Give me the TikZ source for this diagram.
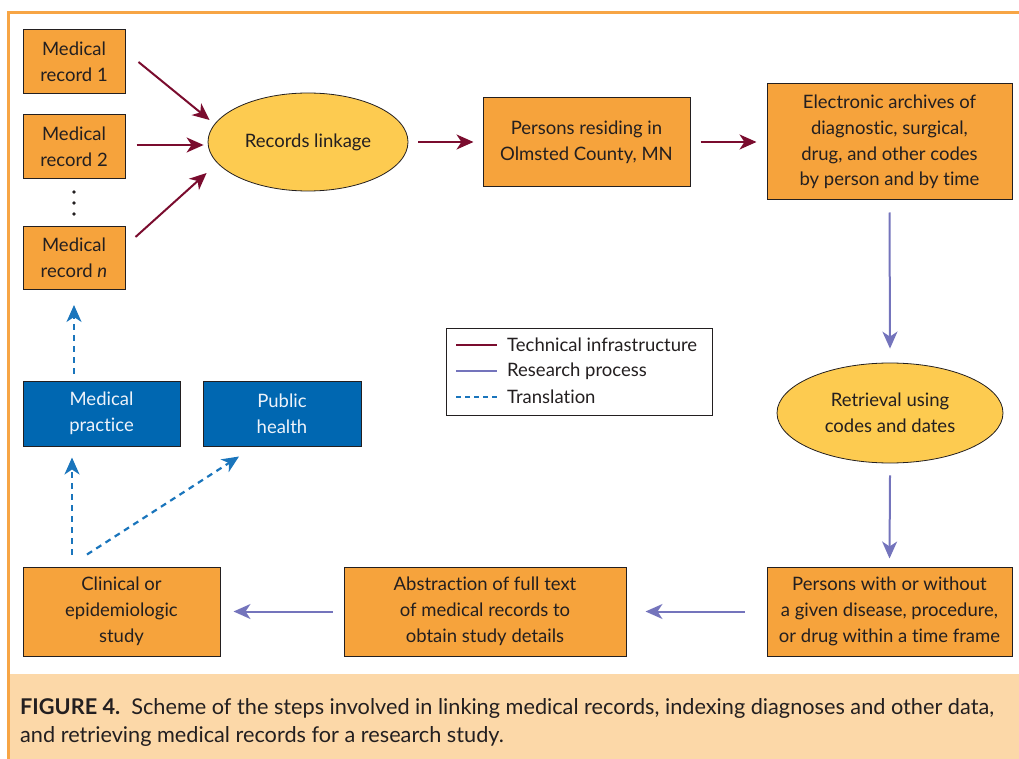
\documentclass[tikz,border=0pt]{standalone}
\usepackage{fontspec}
\setmainfont{Lato}[Ligatures=NoCommon]
\usetikzlibrary{arrows.meta,shapes.geometric}
\definecolor{boxorange}{HTML}{F6A33C}
\definecolor{ellyellow}{HTML}{FDCB50}
\definecolor{techred}{HTML}{7A0C2E}
\definecolor{resblue}{HTML}{7474BC}
\definecolor{bluebox}{HTML}{0067B1}
\definecolor{dashblue}{HTML}{1A75BC}
\definecolor{frameorange}{HTML}{F7A545}
\definecolor{capband}{HTML}{FCD8A8}
\definecolor{textgray}{HTML}{231F20}
\definecolor{boxtextwhite}{HTML}{EEF3FA}
\newcommand{\nodefont}{\fontsize{18.5}{25.8}\selectfont}
\tikzset{
  obox/.style={draw=textgray, line width=1pt, fill=boxorange, inner sep=0pt, align=center, text=textgray, font=\nodefont},
  bbox/.style={draw=textgray, line width=1pt, fill=bluebox, inner sep=0pt, align=center, text=boxtextwhite, font=\nodefont},
  yell/.style={draw=textgray, line width=0.8pt, fill=ellyellow, ellipse, inner sep=0pt, align=center, text=textgray, font=\nodefont},
  tech/.style={draw=techred, line width=2pt, -{Stealth[length=17pt,width=15pt,inset=5pt]}},
  res/.style={draw=resblue, line width=2pt, -{Stealth[length=17pt,width=15pt,inset=5pt]}},
  trans/.style={draw=dashblue, line width=2.2pt, dash pattern=on 6pt off 5pt, -{Stealth[length=17pt,width=15pt,inset=5pt]}},
  legtext/.style={anchor=west, inner sep=0pt, text=textgray, font=\nodefont},
  captext/.style={anchor=base west, inner sep=0pt, text=textgray, font=\fontsize{21.7}{27}\selectfont},
}
\begin{document}
\begin{tikzpicture}[x=1pt,y=-1pt]
\useasboundingbox (0,0) rectangle (1019,759);
% frame and caption band
\fill[capband] (10,674) rectangle (1019,759);
\draw[frameorange, line width=3pt] (1019,13) -- (8,13) -- (8,759);

% nodes
\node[obox, minimum width=102pt, minimum height=64pt] (mr1) at (74,62) {Medical\\record 1};
\node[obox, minimum width=102pt, minimum height=64pt] (mr2) at (74,147) {Medical\\record 2};
\node[obox, minimum width=102pt, minimum height=63pt] (mrn) at (74,258) {Medical\\record \textit{n}};
\fill[textgray] (74,192) circle (1.9pt) (74,203) circle (1.9pt) (74,214) circle (1.9pt);

\node[yell, minimum width=200pt, minimum height=98pt] (link) at (308,142) {Records linkage};
\node[obox, minimum width=207pt, minimum height=89pt] (pers) at (586.5,142) {Persons residing in\\Olmsted County, MN};
\node[obox, minimum width=245pt, minimum height=116pt] (arch) at (889.5,142) {Electronic archives of\\diagnostic, surgical,\\drug, and other codes\\by person and by time};
\node[yell, minimum width=226pt, minimum height=100pt] (retr) at (890,413) {Retrieval using\\codes and dates};
\node[obox, minimum width=245pt, minimum height=89pt] (pwo) at (889.5,611.5) {Persons with or without\\a given disease, procedure,\\or drug within a time frame};
\node[obox, minimum width=282pt, minimum height=89pt] (abst) at (485,611.5) {Abstraction of full text\\of medical records to\\obtain study details};
\node[obox, minimum width=197pt, minimum height=89pt] (clin) at (121.5,611.5) {Clinical or\\epidemiologic\\study};
\node[bbox, minimum width=157pt, minimum height=65pt] (mp) at (101.5,413.5) {Medical\\practice};
\node[bbox, minimum width=158pt, minimum height=65pt] (ph) at (282,413.5) {Public\\health};

% legend
\node[draw=textgray, line width=1pt, fill=white, minimum width=266pt, minimum height=87pt, inner sep=0pt] (leg) at (579,371.5) {};
\coordinate (l1a) at (456,345); \coordinate (l1b) at (497,345);
\coordinate (l2a) at (456,371); \coordinate (l2b) at (497,371);
\coordinate (l3a) at (456,397); \coordinate (l3b) at (497,397);
\draw[techred, line width=2pt] (l1a) -- (l1b);
\draw[resblue, line width=2pt] (l2a) -- (l2b);
\draw[dashblue, line width=2pt, dash pattern=on 5pt off 4pt] (l3a) -- (l3b);
\node[legtext] (lt1) at (507,345) {Technical infrastructure};
\node[legtext] (lt2) at (507,371) {Research process};
\node[legtext] (lt3) at (507,397) {Translation};

% technical connectors
\draw[tech] ([xshift=13pt]mr1.east) -- ([xshift=2pt,yshift=22pt]link.west);
\draw[tech] ([xshift=11pt,yshift=2pt]mr2.east) -- ([xshift=-4pt,yshift=-3pt]link.west);
\draw[tech] ([xshift=10pt,yshift=21pt]mrn.east) -- ([xshift=-1pt,yshift=-31pt]link.west);
\draw[tech] ([xshift=10pt]link.east) -- ([xshift=-9pt]pers.west);
\draw[tech] ([xshift=10pt]pers.east) -- ([xshift=-10pt]arch.west);

% research connectors
\draw[res] ([yshift=-12pt]arch.south) -- ([yshift=14pt]retr.north);
\draw[res] ([yshift=-12pt]retr.south) -- ([yshift=8pt]pwo.north);
\draw[res] ([xshift=-22pt]pwo.west) -- ([xshift=19pt]abst.east);
\draw[res] ([xshift=-11pt]abst.west) -- ([xshift=13pt]clin.east);

% translation connectors
\draw[trans] ([xshift=-49.5pt,yshift=12pt]clin.north) -- ([xshift=-29.5pt,yshift=-11pt]mp.south);
\draw[trans] ([xshift=-34.5pt,yshift=12pt]clin.north) -- ([xshift=-43pt,yshift=-10pt]ph.south);
\draw[trans] ([xshift=-27.5pt,yshift=7pt]mp.north) -- ([yshift=-15pt]mrn.south);

% caption
\node[captext] (cap1) at (20,714) {\textbf{FIGURE 4.}\ \ Scheme of the steps involved in linking medical records, indexing diagnoses and other data,};
\node[captext] (cap2) at (20,742) {and retrieving medical records for a research study.};
\end{tikzpicture}
\end{document}
